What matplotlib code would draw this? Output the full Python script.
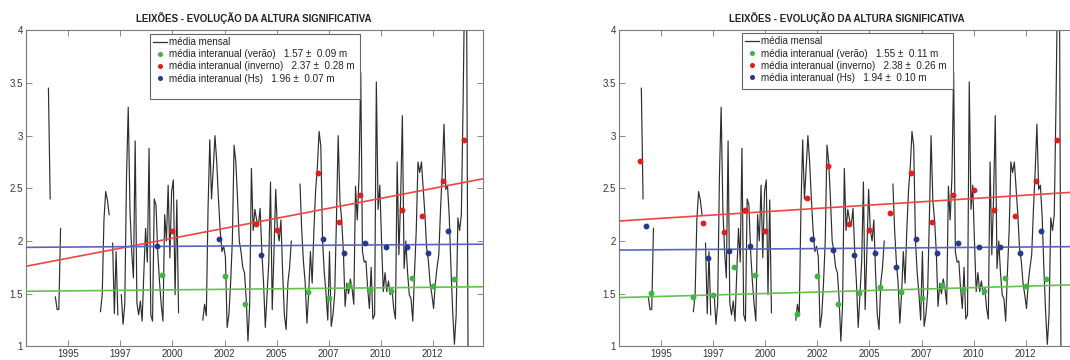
import numpy as np
import matplotlib
matplotlib.use("Agg")
import matplotlib.pyplot as plt
from matplotlib.lines import Line2D
from matplotlib.patches import Rectangle

plt.rcParams['font.family'] = ['Liberation Sans', 'DejaVu Sans']

nan = np.nan

# ---------------- data ----------------
first_year = 1993
# monthly mean significant wave height (m), Jan..Dec for each year
hs_monthly = [
    # 1993
    nan, nan, nan, nan, nan, nan, nan, nan, nan, nan, nan, nan,
    # 1994
    3.45, 2.40, nan, nan, 1.47, 1.35, 1.35, 2.12, nan, nan, nan, nan,
    # 1995
    nan, nan, nan, nan, nan, nan, nan, nan, nan, nan, nan, nan,
    # 1996
    nan, nan, nan, nan, nan, nan, 1.33, 1.49, 2.20, 2.47, 2.39, 2.25,
    # 1997
    nan, 1.98, 1.31, 1.90, 1.30, nan, 1.49, 1.21, 1.40, 2.60, 3.27, 2.30,
    # 1998
    1.90, 1.65, 2.95, 1.41, 1.30, 1.43, 1.24, 1.70, 2.12, 1.80, 2.88, 1.30,
    # 1999
    1.24, 2.40, 2.34, 1.90, 1.62, 1.40, 1.24, 2.25, 2.00, 2.53, 1.84, 2.47,
    # 2000
    2.58, 1.49, 2.39, 1.32, nan, nan, nan, nan, nan, nan, nan, nan,
    # 2001
    nan, nan, nan, nan, nan, 1.25, 1.40, 1.29, 2.31, 2.96, 2.40, 2.69,
    # 2002
    3.00, 2.75, 2.40, 2.10, 1.90, 1.95, 1.85, 1.18, 1.30, 1.60, 2.00, 2.91,
    # 2003
    2.75, 2.40, 2.00, 1.90, 1.75, 1.70, 1.45, 1.05, 1.40, 2.69, 2.10, 2.30,
    # 2004
    2.20, 2.15, 2.31, 1.90, 1.60, 1.18, 1.50, 1.80, 2.56, 1.35, 1.90, 2.49,
    # 2005
    2.10, 2.00, 2.20, 1.70, 1.30, 1.16, 1.60, 1.75, 2.00, nan, nan, nan,
    # 2006
    nan, 2.54, 2.10, 1.80, 1.60, 1.22, 1.50, 1.90, 1.60, 2.10, 2.48, 2.70,
    # 2007
    3.04, 2.90, 2.00, 1.70, 1.50, 1.25, 1.90, 1.19, 1.30, 1.50, 2.20, 3.00,
    # 2008
    2.39, 2.20, 1.90, 1.38, 1.60, 1.50, 1.64, 1.55, 1.40, 2.52, 2.20, 2.60,
    # 2009
    3.60, 1.90, 1.80, 1.81, 1.55, 1.36, 1.75, 1.26, 1.30, 3.51, 2.30, 2.53,
    # 2010
    2.00, 1.52, 1.70, 1.52, 1.62, 1.49, 1.55, 1.36, 1.26, 2.75, 1.87, 2.40,
    # 2011
    3.19, 1.74, 2.00, 1.70, 1.49, 1.45, 1.24, 1.70, 2.10, 2.75, 2.65, 2.75,
    # 2012
    2.50, 2.25, 1.93, 1.81, 1.60, 1.49, 1.36, 1.60, 1.75, 1.87, 2.30, 2.66,
    # 2013
    3.11, 2.49, 2.53, 2.24, 1.75, 1.33, 1.02, 1.30, 2.22, 2.10, 2.25, 3.30,
    # 2014
    4.60, 4.40, 0.30, nan, nan, nan, nan, nan, nan, nan, nan, nan,
]

# inter-annual means, all years (right panel)
winter_years = [1994, 1997, 1998, 1999, 2000, 2002, 2003, 2004, 2005, 2006,
                2007, 2008, 2009, 2010, 2011, 2012, 2013, 2014]
winter_hs = [2.755, 2.169, 2.087, 2.299, 2.094, 2.412, 2.708, 2.166, 2.103, 2.270,
             2.648, 2.176, 2.434, 2.481, 2.292, 2.235, 2.569, 2.963]
annual_years = [1994, 1997, 1998, 1999, 2002, 2003, 2004, 2005, 2006, 2007,
                2008, 2009, 2010, 2011, 2012, 2013]
annual_hs = [2.144, 1.841, 1.907, 1.955, 2.018, 1.914, 1.867, 1.889, 1.756, 2.018,
             1.889, 1.983, 1.940, 1.945, 1.883, 2.094]
summer_years = [1994, 1996, 1997, 1998, 1999, 2001, 2002, 2003, 2004, 2005,
                2006, 2007, 2008, 2009, 2010, 2011, 2012, 2013]
summer_hs = [1.510, 1.473, 1.489, 1.750, 1.678, 1.306, 1.668, 1.401, 1.505, 1.561,
             1.514, 1.457, 1.583, 1.536, 1.529, 1.646, 1.574, 1.640]

# years used in the left panel
winter_years_left = [2000, 2004, 2005, 2007, 2008, 2009, 2011, 2012, 2013, 2014]
annual_years_left = [1999, 2002, 2004, 2007, 2008, 2009, 2010, 2011, 2012, 2013]
summer_years_left = [1999, 2002, 2003, 2006, 2007, 2008, 2009, 2010, 2011, 2012, 2013]

# trend lines (value at left and right end of the time axis)
trend_years = [1992.95, 2014.90]
left_trend_winter = [1.76, 2.59]
left_trend_annual = [1.94, 1.97]
left_trend_summer = [1.523, 1.566]
right_trend_winter = [2.19, 2.465]
right_trend_annual = [1.914, 1.947]
right_trend_summer = [1.463, 1.585]

left_labels = ['média mensal',
               'média interanual (verão)   1.57 \u00b1  0.09 m',
               'média interanual (inverno)   2.37 \u00b1  0.28 m',
               'média interanual (Hs)   1.96 \u00b1  0.07 m']
right_labels = ['média mensal',
                'média interanual (verão)   1.55 \u00b1  0.11 m',
                'média interanual (inverno)   2.38 \u00b1  0.26 m',
                'média interanual (Hs)   1.94 \u00b1  0.10 m']

title = 'LEIXÕES - EVOLUÇÃO DA ALTURA SIGNIFICATIVA'
xtick_pos = [1995, 1997.5, 2000, 2002.5, 2005, 2007.5, 2010, 2012.5]
xtick_labels = ['1995', '1997', '2000', '2002', '2005', '2007', '2010', '2012']
ytick_pos = [1, 1.5, 2, 2.5, 3, 3.5, 4]
ytick_labels = ['1', '1.5', '2', '2.5', '3', '3.5', '4']

# ---------------- styling ----------------
C_LINE = '#2e2e2e'
C_RED_L, C_BLUE_L, C_GREEN_L = '#f04444', '#5a64c0', '#62c24c'
C_RED_M, C_BLUE_M, C_GREEN_M = '#e01e1e', '#26398f', '#3fb443'

W, H = 1070, 360
fig = plt.figure(figsize=(W / 100, H / 100), dpi=100)

month_t = first_year + (np.arange(len(hs_monthly)) + 0.5) / 12.0
hs_arr = np.array(hs_monthly, dtype=float)

winter_map = dict(zip(winter_years, winter_hs))
annual_map = dict(zip(annual_years, annual_hs))
summer_map = dict(zip(summer_years, summer_hs))


def draw_panel(ax, wy, ay, sy, tw, ta, ts, labels, legend_box):
    ax.plot(month_t, hs_arr, color=C_LINE, lw=0.85, zorder=2)
    ax.plot(trend_years, tw, color=C_RED_L, lw=1.2, zorder=3)
    ax.plot(trend_years, ta, color=C_BLUE_L, lw=1.2, zorder=3)
    ax.plot(trend_years, ts, color=C_GREEN_L, lw=1.2, zorder=3)
    ax.plot(np.array(sy) + 0.5, [summer_map[y] for y in sy], 'o', ms=3.2,
            color=C_GREEN_M, mec=C_GREEN_M, zorder=4)
    ax.plot(np.array(wy) + 0.0, [winter_map[y] for y in wy], 'o', ms=3.2,
            color=C_RED_M, mec=C_RED_M, zorder=4)
    ax.plot(np.array(ay) + 0.25, [annual_map[y] for y in ay], 'o', ms=3.2,
            color=C_BLUE_M, mec=C_BLUE_M, zorder=4)

    ax.set_xlim(trend_years[0], trend_years[1])
    ax.set_ylim(1, 4)
    ax.set_xticks(xtick_pos)
    ax.set_xticklabels(xtick_labels)
    ax.set_yticks(ytick_pos)
    ax.set_yticklabels(ytick_labels)
    ax.tick_params(direction='in', length=4, width=0.6, color='#777777',
                   labelsize=7, labelcolor='#333333', pad=2,
                   top=True, right=True)
    for s in ax.spines.values():
        s.set_color('#7a7a7a')
        s.set_linewidth(0.8)

    ax.text(0.5, 1.040, title, transform=ax.transAxes, ha='center', va='center',
            fontsize=7.0, fontweight='bold', color='#222222')

    x0, y0, x1, y1 = legend_box
    ax.add_patch(Rectangle((x0, y0), x1 - x0, y1 - y0, transform=ax.transAxes,
                           facecolor='white', edgecolor='#666666', lw=0.8,
                           zorder=9, clip_on=False))
    handles = [Line2D([], [], color=C_LINE, lw=0.9),
               Line2D([], [], ls='none', marker='o', ms=2.6, color=C_GREEN_M),
               Line2D([], [], ls='none', marker='o', ms=2.6, color=C_RED_M),
               Line2D([], [], ls='none', marker='o', ms=2.6, color=C_BLUE_M)]
    leg = ax.legend(handles, labels, loc='upper left', bbox_to_anchor=(x0, y1),
                    borderaxespad=0, fontsize=7.1, frameon=False,
                    handlelength=1.4, handletextpad=0.25, borderpad=0.3,
                    labelspacing=0.22, numpoints=1)
    for t in leg.get_texts():
        t.set_color('#222222')
    leg.set_zorder(10)


ax_l = fig.add_axes([25.7 / W, 13.6 / H, 457 / W, 316.1 / H])
ax_r = fig.add_axes([618.6 / W, 13.6 / H, 457 / W, 316.1 / H])

draw_panel(ax_l, winter_years_left, annual_years_left, summer_years_left,
           left_trend_winter, left_trend_annual, left_trend_summer,
           left_labels, (0.272, 0.783, 0.7315, 0.988))
draw_panel(ax_r, winter_years, annual_years, summer_years,
           right_trend_winter, right_trend_annual, right_trend_summer,
           right_labels, (0.270, 0.813, 0.732, 0.990))

fig.savefig('out.png', dpi=100)
